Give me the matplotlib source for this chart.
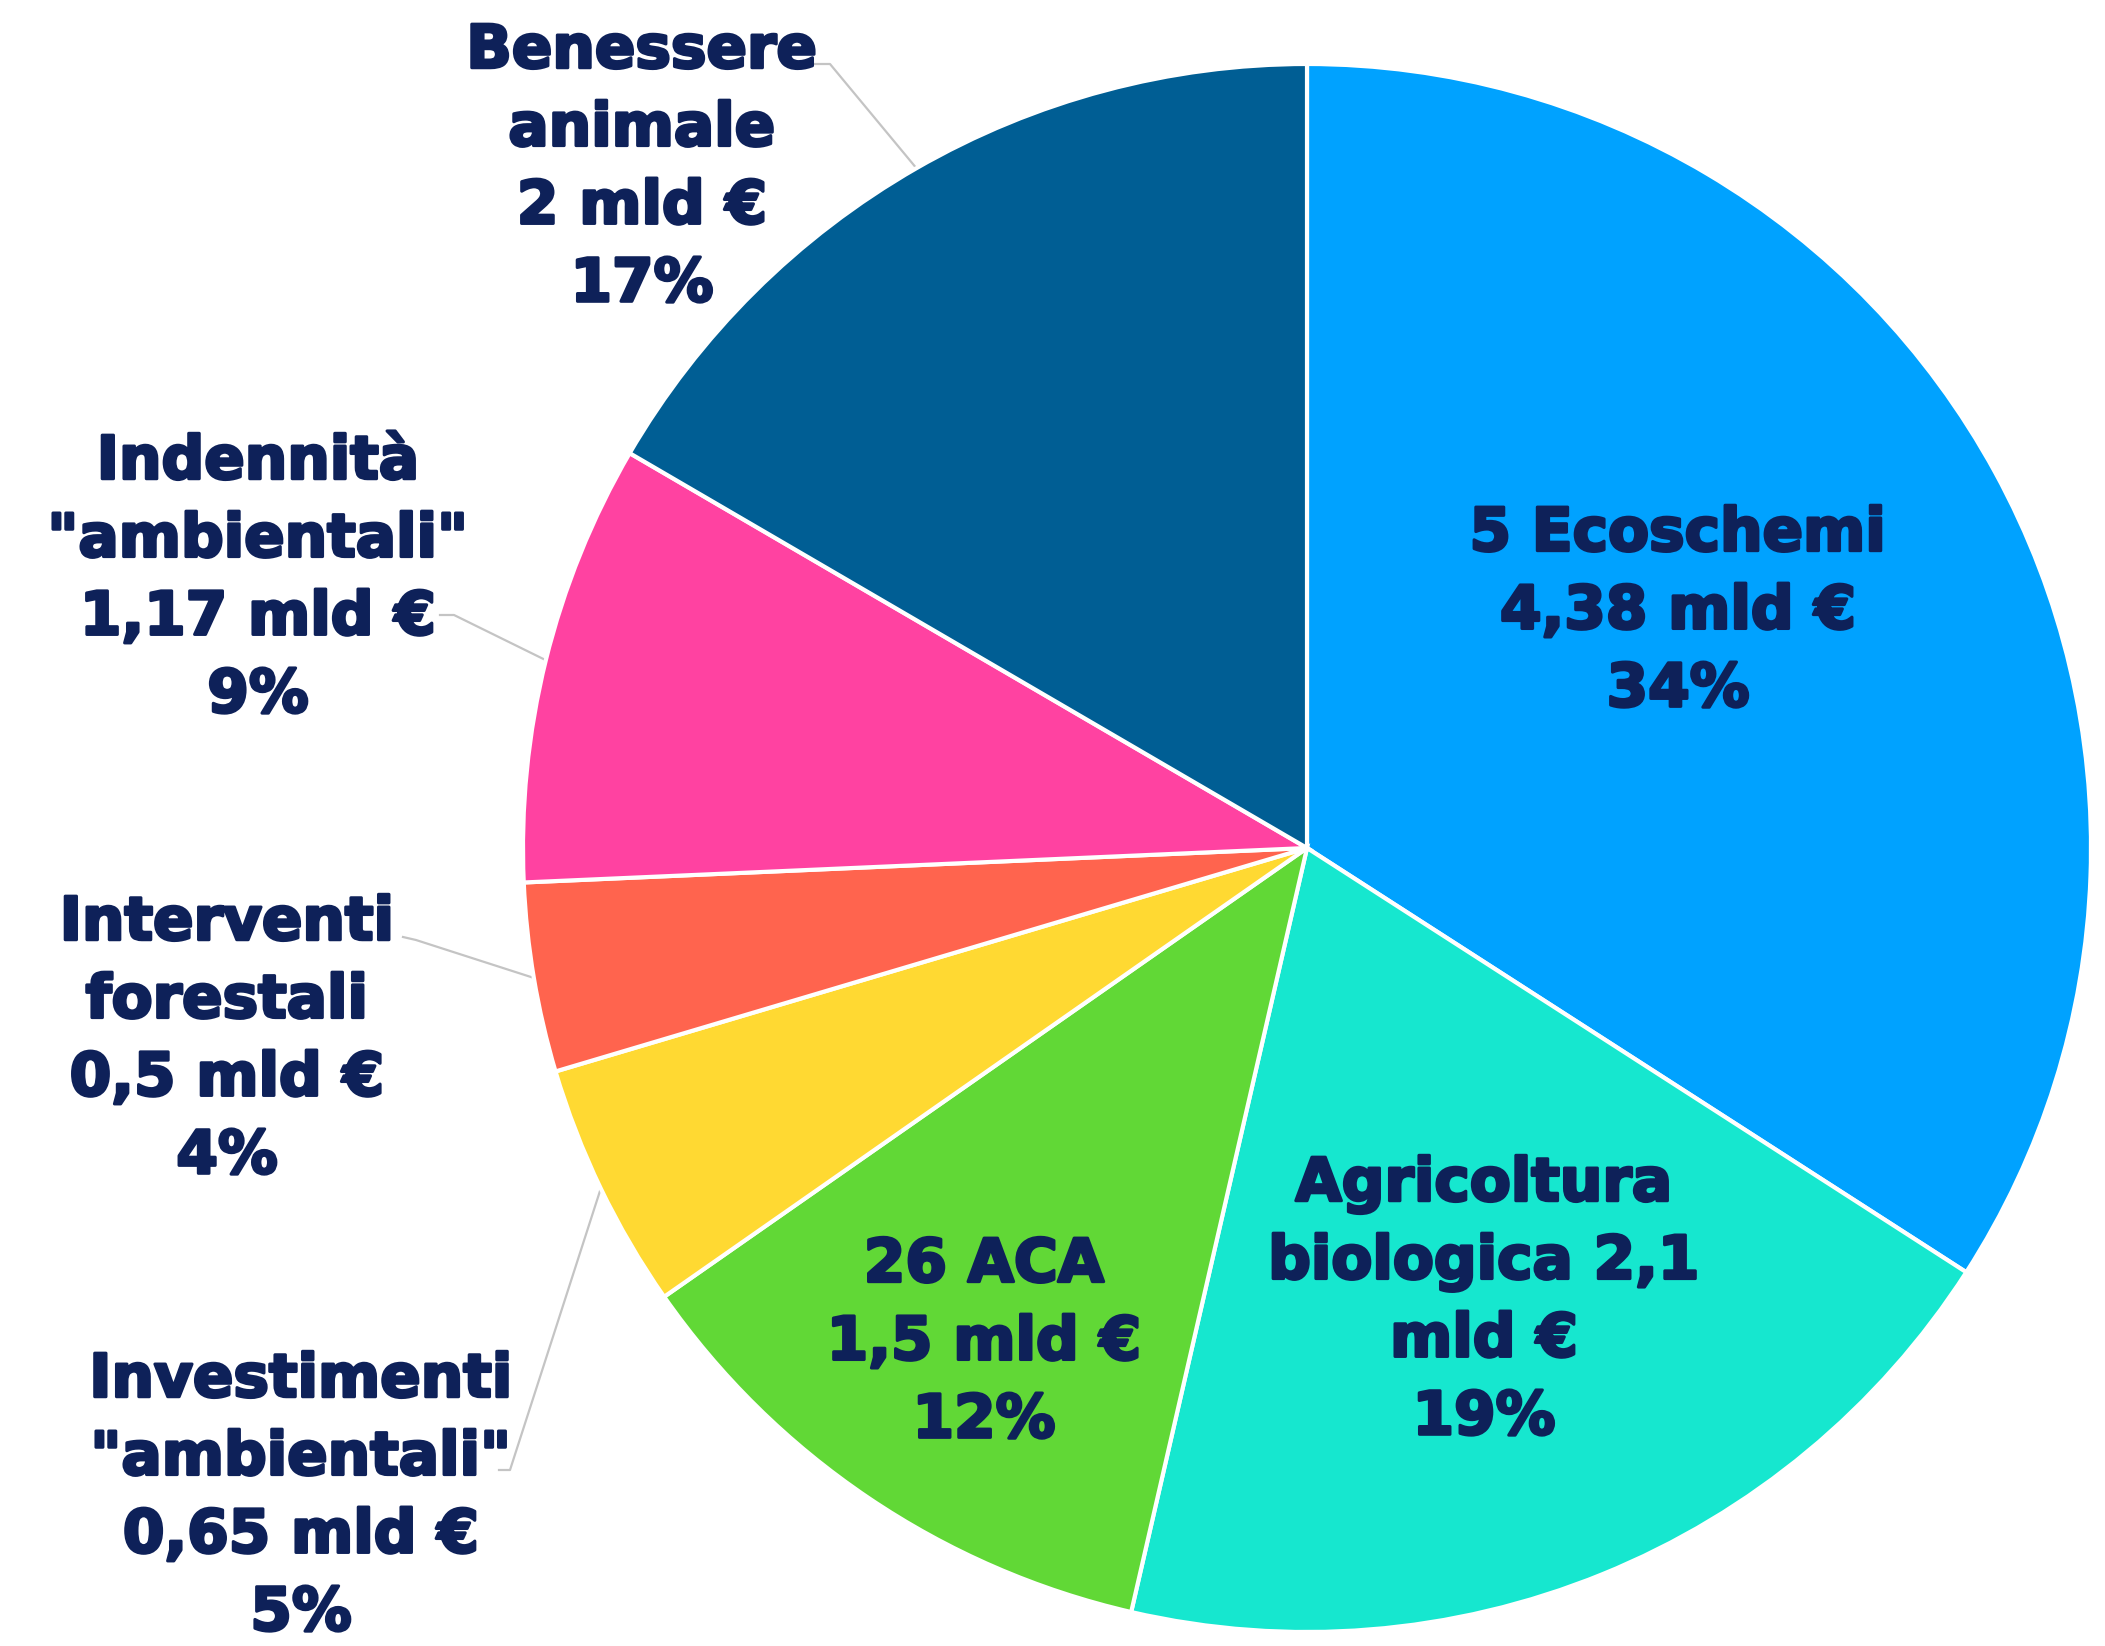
import matplotlib.pyplot as plt
import matplotlib.patheffects as pe
import numpy as np

# slices, clockwise from 12 o'clock
names = ["5 Ecoschemi\n4,38 mld €\n34%",
         "Agricoltura\nbiologica 2,1\nmld €\n19%",
         "26 ACA\n1,5 mld €\n12%",
         "Investimenti\n\"ambientali\"\n0,65 mld €\n5%",
         "Interventi\nforestali\n0,5 mld €\n4%",
         "Indennità\n\"ambientali\"\n1,17 mld €\n9%",
         "Benessere\nanimale\n2 mld €\n17%"]
shares = [34.1, 19.5, 11.7, 5.1, 3.9, 9.1, 16.6]
colors = ["#00A2FF", "#16E7CF", "#61D836", "#FFD932", "#FF644E", "#FF42A1", "#005E94"]

TXT = "#0E2159"
W, H = 2105, 1646
cx, cy, R = 1307, H - 848, 784

fig = plt.figure(figsize=(W / 100, H / 100), dpi=100)
ax = fig.add_axes([0, 0, 1, 1])

ax.pie(shares, colors=colors, startangle=90, counterclock=False,
       center=(cx, cy), radius=R, frame=True,
       wedgeprops=dict(edgecolor="white", linewidth=3))
ax.set_xlim(0, W)
ax.set_ylim(0, H)
ax.set_aspect("equal")
ax.axis("off")

# DejaVu bold is lighter than the original, thicken it a bit
font = dict(fontsize=43, fontweight="bold", color=TXT, ha="center",
            va="center", linespacing=1.41, family="DejaVu Sans",
            path_effects=[pe.withStroke(linewidth=2.2, foreground=TXT)])

# inside labels (pixel positions, y from top)
inside = {0: (1678, 612), 1: (1484, 1301), 2: (984, 1343)}
for i, (x, y) in inside.items():
    ax.text(x, H - y, names[i], **font)

# outside labels: text position, elbow start, elbow end
outside = {6: ((642, 168), (815, 64), (830, 64)),
           5: ((258, 579), (440, 615), (454, 615)),
           4: ((227, 1040), (403, 937), (416, 940)),
           3: ((301, 1497), (499, 1470), (510, 1470))}
cum = np.cumsum([0] + shares)
for i, ((tx, ty), p0, p1) in outside.items():
    ax.text(tx, H - ty, names[i], **font)
    mid = np.deg2rad((cum[i] + cum[i + 1]) / 2 * 3.6)
    ex, ey = cx + R * np.sin(mid), cy + R * np.cos(mid)
    ax.plot([p0[0], p1[0], ex], [H - p0[1], H - p1[1], ey],
            color="#C4C4C4", lw=1.6, zorder=0.5)

fig.savefig("out.png", dpi=100, facecolor="white")
